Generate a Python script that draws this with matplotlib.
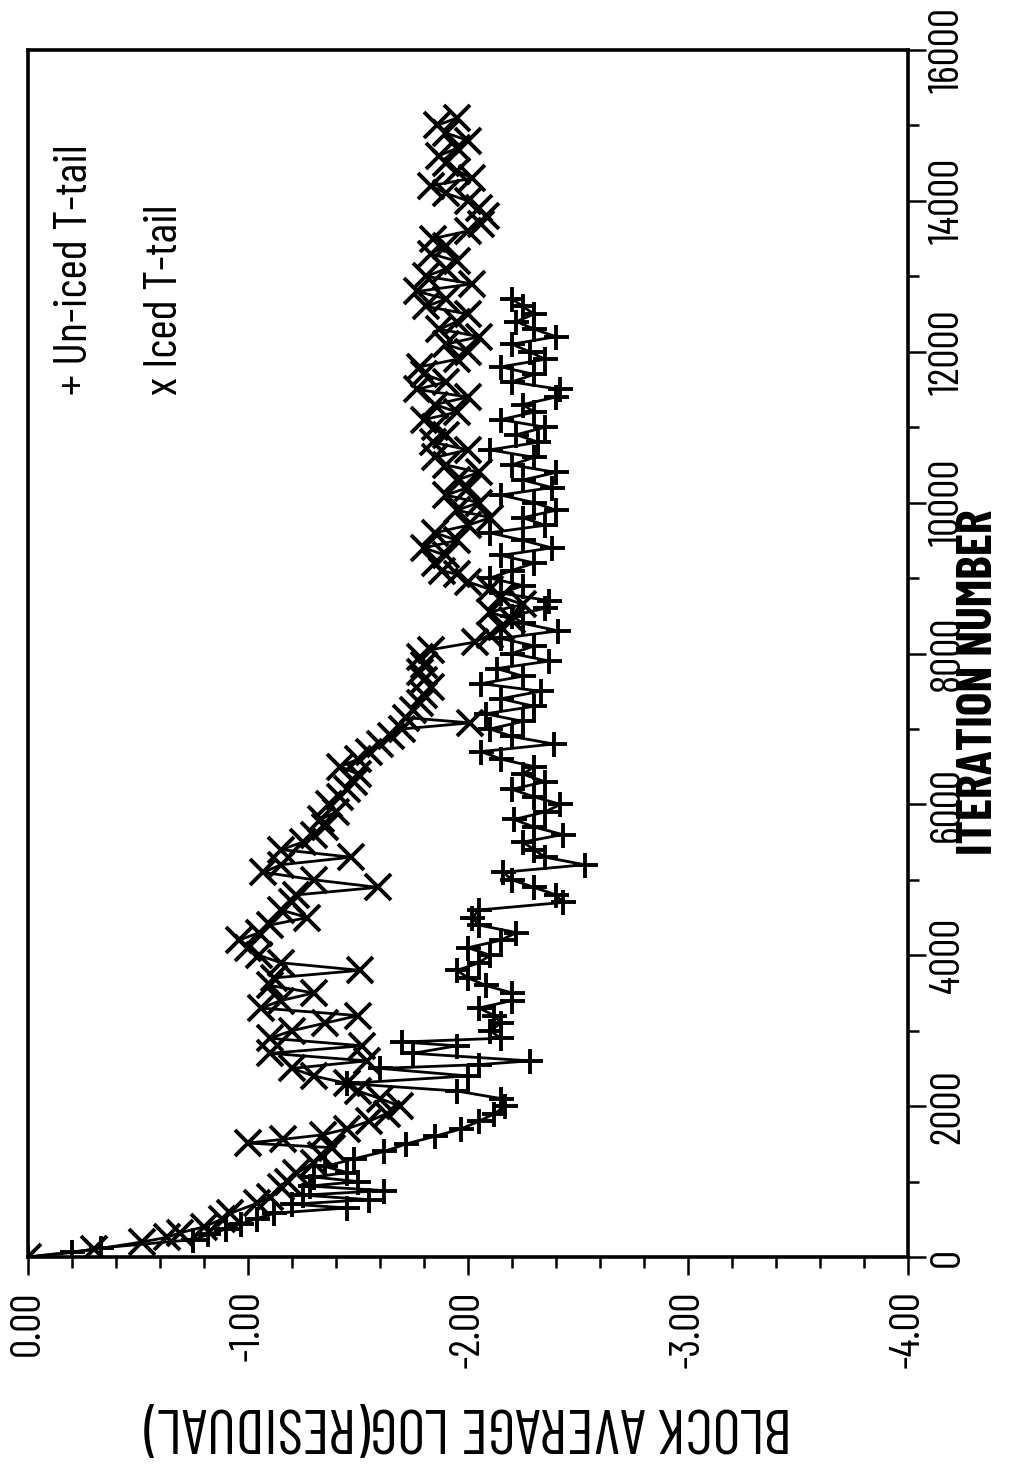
import matplotlib
matplotlib.use("Agg")
import matplotlib.pyplot as plt
from matplotlib.ticker import FixedLocator, MultipleLocator, FixedFormatter

FAM = ['Barlow Condensed', 'Roboto Condensed', 'Archivo Narrow', 'DejaVu Sans']
plt.rcParams['font.family'] = FAM

# ---------------- data ----------------
uniced_iter = [0, 60, 120, 230, 300, 370, 440, 510, 580, 650, 700, 760, 820, 880, 940, 1000,
               1060, 1120, 1200, 1300, 1400, 1500, 1600, 1700, 1800, 1900, 2000, 2100, 2200,
               2300, 2400, 2500, 2550, 2600, 2700, 2800, 2850, 2900, 3000, 3100, 3200, 3300,
               3400, 3500, 3600, 3700, 3800, 3900, 4000, 4100, 4200, 4300, 4400, 4500, 4600,
               4700, 4800, 4900, 5000, 5100, 5200, 5300, 5400, 5500, 5600, 5700, 5800, 5900,
               6000, 6100, 6200, 6300, 6400, 6500, 6600, 6700, 6800, 6900, 7000, 7100, 7200,
               7300, 7400, 7500, 7600, 7700, 7800, 7900, 8000, 8100, 8200, 8300, 8400, 8500,
               8600, 8700, 8800, 8900, 9000, 9100, 9200, 9300, 9400, 9500, 9600, 9700, 9800,
               9900, 10000, 10100, 10200, 10300, 10400, 10500, 10600, 10700, 10800, 10900,
               11000, 11100, 11200, 11300, 11400, 11500, 11600, 11700, 11800, 11900, 12000,
               12100, 12200, 12300, 12400, 12500, 12600, 12700]
uniced_resid = [0.0, -0.2, -0.33, -0.75, -0.82, -0.9, -0.97, -1.04, -1.12, -1.45, -1.2, -1.55,
                -1.25, -1.62, -1.28, -1.5, -1.3, -1.45, -1.35, -1.48, -1.62, -1.72, -1.85,
                -1.97, -2.05, -2.12, -2.17, -2.15, -1.95, -1.45, -2.0, -1.6, -2.05, -2.28,
                -1.75, -1.95, -1.7, -2.15, -2.1, -2.15, -2.12, -2.05, -2.2, -2.2, -2.08, -2.0,
                -1.95, -2.05, -2.1, -2.0, -2.15, -2.22, -2.05, -2.02, -2.05, -2.43, -2.4, -2.3,
                -2.2, -2.16, -2.53, -2.35, -2.3, -2.25, -2.43, -2.3, -2.21, -2.35, -2.42, -2.3,
                -2.2, -2.35, -2.25, -2.3, -2.15, -2.06, -2.39, -2.2, -2.1, -2.25, -2.08, -2.3,
                -2.15, -2.33, -2.06, -2.25, -2.13, -2.37, -2.2, -2.3, -2.15, -2.41, -2.25, -2.2,
                -2.35, -2.37, -2.15, -2.25, -2.1, -2.2, -2.3, -2.15, -2.38, -2.25, -2.1, -2.35,
                -2.25, -2.4, -2.3, -2.15, -2.38, -2.25, -2.4, -2.2, -2.3, -2.1, -2.32, -2.22,
                -2.35, -2.15, -2.3, -2.25, -2.4, -2.42, -2.2, -2.3, -2.15, -2.35, -2.28, -2.2,
                -2.4, -2.3, -2.22, -2.3, -2.25, -2.2]

iced_iter = [0, 100, 200, 260, 320, 400, 500, 580, 710, 800, 930, 1000, 1110, 1250, 1350, 1450,
             1510, 1560, 1620, 1700, 1800, 1900, 2000, 2100, 2200, 2300, 2400, 2500, 2600, 2700,
             2800, 2900, 3000, 3100, 3200, 3300, 3400, 3500, 3600, 3700, 3800, 3900, 4000, 4100,
             4200, 4300, 4400, 4500, 4600, 4700, 4800, 4900, 5000, 5100, 5200, 5300, 5400, 5500,
             5600, 5700, 5800, 5900, 6000, 6100, 6200, 6300, 6400, 6500, 6600, 6700, 6800, 6900,
             7000, 7080, 7150, 7250, 7350, 7450, 7550, 7650, 7750, 7850, 7950, 8050, 8150, 8250,
             8350, 8450, 8550, 8650, 8750, 8850, 8950, 9050, 9100, 9200, 9300, 9400, 9500, 9600,
             9700, 9800, 9900, 10000, 10100, 10200, 10300, 10400, 10500, 10600, 10700, 10800,
             10900, 11000, 11100, 11200, 11300, 11400, 11500, 11600, 11700, 11800, 11900, 12000,
             12100, 12200, 12300, 12400, 12500, 12600, 12700, 12800, 12900, 13000, 13100, 13200,
             13300, 13400, 13500, 13600, 13700, 13800, 13900, 14000, 14100, 14200, 14300, 14400,
             14500, 14600, 14700, 14800, 14900, 15000, 15100]
iced_resid = [0.0, -0.3, -0.52, -0.63, -0.69, -0.8, -0.88, -0.92, -1.04, -1.1, -1.15, -1.18,
              -1.22, -1.3, -1.33, -1.38, -1.0, -1.16, -1.34, -1.45, -1.55, -1.63, -1.69, -1.6,
              -1.5, -1.45, -1.3, -1.2, -1.54, -1.1, -1.52, -1.1, -1.2, -1.35, -1.5, -1.06, -1.15,
              -1.3, -1.1, -1.12, -1.51, -1.15, -1.05, -1.0, -0.96, -1.05, -1.1, -1.27, -1.15,
              -1.2, -1.22, -1.59, -1.3, -1.07, -1.15, -1.47, -1.15, -1.25, -1.3, -1.35, -1.33,
              -1.4, -1.37, -1.42, -1.45, -1.48, -1.5, -1.42, -1.5, -1.55, -1.6, -1.65, -1.7,
              -2.01, -1.72, -1.75, -1.78, -1.8, -1.83, -1.8, -1.78, -1.8, -1.78, -1.83, -2.03,
              -2.1, -2.15, -2.2, -2.1, -2.25, -2.15, -2.1, -2.0, -1.95, -1.88, -1.85, -1.9,
              -1.8, -1.95, -1.85, -2.0, -2.1, -1.95, -2.05, -1.9, -2.0, -1.95, -2.05, -1.9,
              -1.85, -2.0, -1.84, -1.9, -1.85, -1.8, -1.95, -1.85, -2.0, -1.77, -1.9, -1.8,
              -1.78, -1.95, -2.0, -1.9, -2.05, -1.87, -1.95, -2.0, -1.81, -1.9, -1.77, -2.02,
              -1.81, -1.9, -1.95, -1.83, -1.9, -1.84, -2.0, -2.06, -2.08, -2.05, -2.0, -1.9,
              -1.83, -2.02, -1.95, -1.9, -1.87, -1.95, -2.0, -1.9, -1.86, -1.95]

resid_ticks = [0.0, -1.0, -2.0, -3.0, -4.0]
resid_labels = ['0.00', '-1.00', '-2.00', '-3.00', '-4.00']
iter_ticks = [0, 2000, 4000, 6000, 8000, 10000, 12000, 14000, 16000]
iter_labels = ['0', '2000', '4000', '6000', '8000', '10000', '12000', '14000', '16000']

legend_texts = ['+ Un-iced T-tail', 'x Iced T-tail']
xlabel_text = 'ITERATION NUMBER'
ylabel_text = 'BLOCK AVERAGE LOG(RESIDUAL)'

# ---------------- figure ----------------
W, H = 1010, 1464
fig = plt.figure(figsize=(W / 100, H / 100), dpi=100)

def fx(px):
    return px / W

def fy(py):
    return 1 - py / H

L, R, T, B = 28, 908, 50, 1257
ax = fig.add_axes([fx(L), fy(B), (R - L) / W, (B - T) / H])

ax.plot(uniced_resid, uniced_iter, color='black', lw=2.0, marker='+', ms=18, mew=2.8)
ax.plot(iced_resid, iced_iter, color='black', lw=2.0, marker='x', ms=19, mew=2.8)

ax.set_xlim(0, -4)
ax.set_ylim(0, 16000)

for s in ax.spines.values():
    s.set_linewidth(2.6)

ax.xaxis.set_major_locator(FixedLocator(resid_ticks))
ax.xaxis.set_major_formatter(FixedFormatter(resid_labels))
ax.xaxis.set_minor_locator(MultipleLocator(0.2))
ax.yaxis.tick_right()
ax.yaxis.set_major_locator(FixedLocator(iter_ticks))
ax.yaxis.set_major_formatter(FixedFormatter(iter_labels))
ax.yaxis.set_minor_locator(MultipleLocator(1000))

ax.tick_params(axis='both', which='major', direction='out', length=13, width=1.8, labelsize=31)
ax.tick_params(axis='both', which='minor', direction='out', length=8, width=1.8)
ax.tick_params(axis='x', which='major', pad=11)
ax.tick_params(axis='y', which='major', pad=2)

for lab in ax.get_xticklabels():
    lab.set_rotation(90)
    lab.set_va('top')
    lab.set_ha('center')
for lab in ax.get_yticklabels():
    lab.set_rotation(90)
    lab.set_va('center')
    lab.set_ha('left')

fig.text(fx(979), fy(682), xlabel_text, rotation=90, ha='center', va='center',
         fontsize=36, fontweight='bold')
fig.text(fx(468), fy(1424), ylabel_text, rotation=180, ha='center', va='center',
         fontsize=44)

fig.text(fx(75), fy(395), legend_texts[0], rotation=90, ha='center', va='bottom', fontsize=34)
fig.text(fx(165), fy(395), legend_texts[1], rotation=90, ha='center', va='bottom', fontsize=34)

fig.savefig('out.png', dpi=100, facecolor='white')
